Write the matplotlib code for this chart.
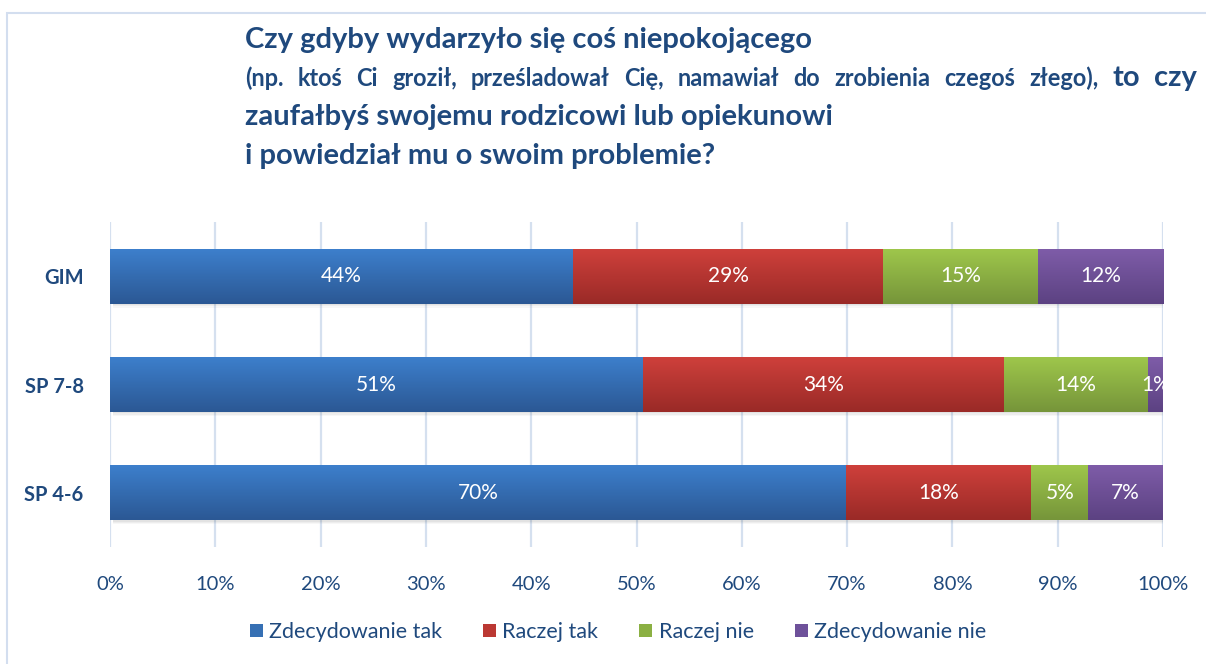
import matplotlib
matplotlib.use('Agg')
import matplotlib.pyplot as plt
import numpy as np
from matplotlib.patches import Rectangle
from matplotlib.colors import to_rgb

plt.rcParams['font.family'] = ['Lato', 'DejaVu Sans']

# ---- data ----
categories = ['SP 4-6', 'SP 7-8', 'GIM']
series_names = ['Zdecydowanie tak', 'Raczej tak', 'Raczej nie', 'Zdecydowanie nie']
zdecydowanie_tak = [69.9, 50.6, 44.0]
raczej_tak = [17.6, 34.3, 29.4]
raczej_nie = [5.4, 13.7, 14.7]
zdecydowanie_nie = [7.1, 1.4, 11.9]
x_ticks = [0, 10, 20, 30, 40, 50, 60, 70, 80, 90, 100]
x_tick_labels = ['0%', '10%', '20%', '30%', '40%', '50%', '60%', '70%', '80%', '90%', '100%']

title_line1 = 'Czy gdyby wydarzyło się coś niepokojącego'
title_line2_small = '(np. ktoś Ci groził, prześladował Cię, namawiał do zrobienia czegoś złego),'
title_line2_big = 'to czy'
title_line3 = 'zaufałbyś swojemu rodzicowi lub opiekunowi'
title_line4 = 'i powiedział mu o swoim problemie?'

# ---- style ----
TEXT = '#1F497D'
grad_top = ['#3D7FCC', '#CE403B', '#9EC64B', '#7E5CA8']
grad_bot = ['#2B5894', '#9A2A27', '#76953A', '#5C4282']
mid_col = ['#3670B4', '#BB3833', '#8BB043', '#6E519A']

W, H = 1206, 664
fig = plt.figure(figsize=(W / 100, H / 100), dpi=100)
fig.patch.set_facecolor('white')

ax = fig.add_axes([110 / W, 1 - 547 / H, 1053 / W, 325 / H])
ax.set_xlim(0, 100)
ax.set_ylim(-0.5, 2.5)

all_series = [zdecydowanie_tak, raczej_tak, raczej_nie, zdecydowanie_nie]
y = np.arange(len(categories))
bh = 0.507
left = np.zeros(len(categories))
totals = np.sum(all_series, axis=0)

# shadows
for j in range(len(categories)):
    for k, a in enumerate([0.06, 0.05, 0.04]):
        off = 0.012 * (k + 1)
        ax.add_patch(Rectangle((0.3, y[j] - bh / 2 - off), totals[j], bh,
                               facecolor='#404040', edgecolor='none', alpha=a, zorder=1.5))

for i, vals in enumerate(all_series):
    bars = ax.barh(y, vals, left=left, height=bh, color=mid_col[i], zorder=2,
                   edgecolor='none', label=series_names[i])
    t = np.array(to_rgb(grad_top[i]))
    b = np.array(to_rgb(grad_bot[i]))
    g = np.linspace(0, 1, 64)[:, None, None]
    img = t[None, None, :] * (1 - g) + b[None, None, :] * g
    for j, p in enumerate(bars.patches):
        x0 = left[j]
        ax.imshow(img, extent=(x0, x0 + vals[j], y[j] - bh / 2, y[j] + bh / 2),
                  aspect='auto', origin='upper', zorder=2.5, interpolation='bilinear')
        ax.text(x0 + vals[j] / 2, y[j], f'{vals[j]:.0f}%', color='white',
                ha='center', va='center', fontsize=15, zorder=4, clip_on=True)
    left = left + np.array(vals)

ax.set_xlim(0, 100)
ax.set_ylim(-0.5, 2.5)
ax.set_xticks(x_ticks)
ax.set_xticklabels(x_tick_labels)
ax.set_yticks(y)
ax.set_yticklabels(categories, fontweight='bold')
ax.xaxis.grid(True, color='#D5E0EF', lw=1.6)
ax.set_axisbelow(True)
for s in ax.spines.values():
    s.set_visible(False)
ax.tick_params(axis='x', length=0, pad=21, labelsize=14.5, labelcolor=TEXT)
ax.tick_params(axis='y', length=0, pad=19, labelsize=14.5, labelcolor=TEXT)

# legend
handles = [Rectangle((0, 0), 1, 1, facecolor=mid_col[i], edgecolor='none') for i in range(4)]
fig.legend(handles, series_names, ncol=4, loc='center',
           bbox_to_anchor=(618 / W, 1 - 632 / H), frameon=False,
           fontsize=15.5, handlelength=0.6, handleheight=0.6, handletextpad=0.3,
           columnspacing=1.9, labelcolor=TEXT)

# border
fig.add_artist(Rectangle((7 / W, -0.2), 1.2, (H - 13) / H + 0.2, transform=fig.transFigure,
                         fill=False, edgecolor='#D3DEEF', lw=1.5))

# title
TS = 21
X0 = 245 / W
fig.text(X0, 1 - 48 / H, title_line1, fontsize=TS, fontweight='bold', color=TEXT, va='baseline')
fig.text(X0, 1 - 125 / H, title_line3, fontsize=TS, fontweight='bold', color=TEXT, va='baseline')
fig.text(X0, 1 - 164 / H, title_line4, fontsize=TS, fontweight='bold', color=TEXT, va='baseline')

renderer = fig.canvas.get_renderer()
small_words = title_line2_small.split()
big_words = title_line2_big.split()
x_start, x_end = 245, 1197
target_gap = 14

def measure(w, s):
    t = fig.text(0, 0, w, fontsize=s, fontweight='bold')
    wd = t.get_window_extent(renderer).width
    t.remove()
    return wd

small10 = sum(measure(w, 10) for w in small_words)
big_w = sum(measure(w, TS) for w in big_words)
n_gaps = len(small_words) + len(big_words) - 1
small_size = 10 * (x_end - x_start - big_w - n_gaps * target_gap) / small10
small_size = min(small_size, 17)

words = [(w, small_size) for w in small_words] + [(w, TS) for w in big_words]
txts = []
widths = []
for w, s in words:
    t = fig.text(0, 1 - 86 / H, w, fontsize=s, fontweight='bold', color=TEXT, va='baseline')
    widths.append(t.get_window_extent(renderer).width)
    txts.append(t)
gap = (x_end - x_start - sum(widths)) / (len(words) - 1)
x = x_start
for t, wd in zip(txts, widths):
    t.set_x(x / W)
    x += wd + gap

fig.savefig('out.png', dpi=100, facecolor='white')
